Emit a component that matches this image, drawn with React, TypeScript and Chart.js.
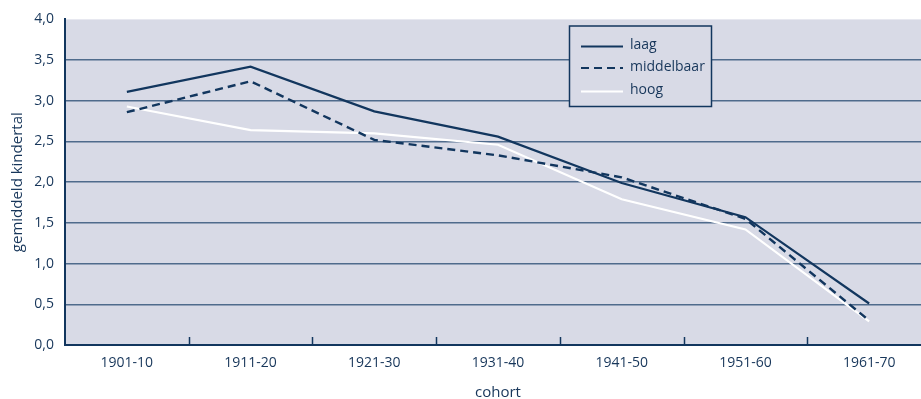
import React, { useEffect, useRef } from 'react';
import { Chart, registerables } from 'chart.js';

Chart.register(...registerables);

const categories = ['1901-10', '1911-20', '1921-30', '1931-40', '1941-50', '1951-60', '1961-70'];
const laag = [3.11, 3.42, 2.87, 2.56, 1.99, 1.57, 0.51];
const middelbaar = [2.86, 3.24, 2.52, 2.33, 2.06, 1.55, 0.3];
const hoog = [2.93, 2.64, 2.6, 2.46, 1.79, 1.42, 0.29];
const yTicks = [0, 0.5, 1, 1.5, 2, 2.5, 3, 3.5, 4];

const NAVY = '#12365e';
const TEXT = '#17365a';
const BG = '#d8dae6';
const GRID = '#4f6b8c';
const FONT = "'Open Sans', sans-serif";

const bgPlugin = {
  id: 'bgPlugin',
  beforeDraw(chart: any) {
    const { ctx, chartArea } = chart;
    ctx.save();
    ctx.fillStyle = BG;
    ctx.fillRect(chartArea.left, chartArea.top, chartArea.right - chartArea.left, chartArea.bottom - chartArea.top);
    ctx.restore();
  },
};

const innerTicks = {
  id: 'innerTicks',
  afterDraw(chart: any) {
    const { ctx, chartArea } = chart;
    const xs = chart.scales.x;
    ctx.save();
    ctx.strokeStyle = NAVY;
    ctx.lineWidth = 1.5;
    for (let i = 1; i < categories.length; i++) {
      const x = Math.round((xs.getPixelForValue(i - 1) + xs.getPixelForValue(i)) / 2) + 0.5;
      ctx.beginPath();
      ctx.moveTo(x, chartArea.bottom);
      ctx.lineTo(x, chartArea.bottom - 8);
      ctx.stroke();
    }
    ctx.restore();
  },
};

const legendBox = {
  id: 'legendBox',
  afterDatasetsDraw(chart: any) {
    const { ctx } = chart;
    const bx = 569.5, by = 26, bw = 142, bh = 80.5;
    ctx.save();
    ctx.fillStyle = BG;
    ctx.fillRect(bx, by, bw, bh);
    ctx.strokeStyle = NAVY;
    ctx.lineWidth = 1.5;
    ctx.strokeRect(bx, by, bw, bh);
    const rows = [46.5, 68, 91.5];
    chart.data.datasets.forEach((ds: any, i: number) => {
      const y = rows[i];
      ctx.beginPath();
      ctx.strokeStyle = ds.borderColor;
      ctx.lineWidth = 2.2;
      ctx.setLineDash(ds.borderDash || []);
      ctx.moveTo(581, y);
      ctx.lineTo(623, y);
      ctx.stroke();
      ctx.setLineDash([]);
      ctx.fillStyle = TEXT;
      ctx.font = `14px ${FONT}`;
      ctx.textBaseline = 'middle';
      ctx.textAlign = 'left';
      ctx.fillText(ds.label, 630, y - 1);
    });
    ctx.restore();
  },
};

export default function App() {
  const ref = useRef<HTMLCanvasElement | null>(null);
  useEffect(() => {
    if (!ref.current) return;
    const chart = new Chart(ref.current, {
      type: 'line',
      data: {
        labels: categories,
        datasets: [
          { label: 'laag', data: laag, borderColor: NAVY, borderWidth: 2.2, pointRadius: 0, tension: 0, fill: false },
          { label: 'middelbaar', data: middelbaar, borderColor: NAVY, borderWidth: 2.4, borderDash: [8, 5], pointRadius: 0, tension: 0, fill: false },
          { label: 'hoog', data: hoog, borderColor: '#ffffff', borderWidth: 2.2, pointRadius: 0, tension: 0, fill: false },
        ],
      },
      options: {
        responsive: false,
        animation: false,
        devicePixelRatio: 1,
        layout: { padding: { top: 17, right: 0, left: 0, bottom: 0 } },
        plugins: { legend: { display: false }, tooltip: { enabled: false } },
        scales: {
          x: {
            type: 'category',
            offset: true,
            grid: { display: false, drawTicks: false },
            border: { display: true, color: NAVY, width: 2 },
            ticks: { color: TEXT, font: { family: FONT, size: 14 }, padding: 10, maxRotation: 0, autoSkip: false },
            title: { display: true, text: 'cohort', color: TEXT, font: { family: FONT, size: 15 }, padding: { top: 0, bottom: 0 } },
            afterFit(scale: any) { scale.height = 57; },
          },
          y: {
            min: 0,
            max: 4,
            afterBuildTicks(scale: any) { scale.ticks = yTicks.map((v) => ({ value: v })); },
            grid: {
              drawTicks: false,
              color: (c: any) => (c.tick && (c.tick.value === 0 || c.tick.value === 4) ? 'rgba(0,0,0,0)' : GRID),
              lineWidth: 1.5,
            },
            border: { display: true, color: NAVY, width: 2 },
            ticks: {
              color: TEXT,
              font: { family: FONT, size: 14 },
              padding: 11,
              callback: (v: any) => Number(v).toFixed(1).replace('.', ','),
            },
            title: { display: true, text: 'gemiddeld kindertal', color: TEXT, font: { family: FONT, size: 15 }, padding: { top: 9, bottom: 0 } },
            afterFit(scale: any) { scale.width = 65; },
          },
        },
      },
      plugins: [bgPlugin, innerTicks, legendBox],
    });
    return () => chart.destroy();
  }, []);
  return (
    <div style={{ position: 'fixed', left: 0, top: 0, width: 921, height: 399, overflow: 'hidden', background: '#fff' }}>
      <canvas ref={ref} width={931} height={402} style={{ width: 931, height: 402, display: 'block' }} />
    </div>
  );
}
